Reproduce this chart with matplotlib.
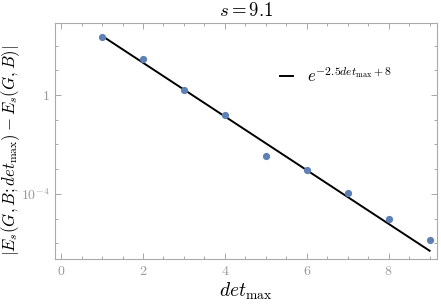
import matplotlib
matplotlib.use("Agg")
import matplotlib.pyplot as plt
import numpy as np
from matplotlib.ticker import FixedLocator, MultipleLocator, NullFormatter

plt.rcParams["mathtext.fontset"] = "cm"
plt.rcParams["font.family"] = "serif"
plt.rcParams["font.serif"] = ["DejaVu Serif"]

# values (log10 of the error)
det_max = np.array([1, 2, 3, 4, 5, 6, 7, 8, 9])
log_err = np.array([2.36, 1.47, 0.19, -0.82, -2.48, -3.02, -3.97, -5.01, -5.87])
err = 10.0 ** log_err

fit_a, fit_b = -2.5, 8.0

gray = "#999999"
fig = plt.figure(figsize=(4.41, 3.06), dpi=100)
ax = fig.add_axes([55 / 441, 1 - 259 / 306, 382 / 441, 236 / 306])

xs = np.linspace(1, 9, 100)
ax.plot(xs, np.exp(fit_a * xs + fit_b), c="k", lw=1.4,
        label=r"$e^{-2.5 det_{\mathrm{max}}+8}$")
ax.plot(det_max, err, " o", c="#5E81B5", ms=4.2, zorder=3)

ax.set_yscale("log")
ax.set_xlim(-0.15, 9.18)
ax.set_ylim(10 ** -6.63, 10 ** 2.91)

ax.xaxis.set_major_locator(MultipleLocator(2))
ax.xaxis.set_minor_locator(MultipleLocator(0.5))
ax.yaxis.set_major_locator(FixedLocator([1e-4, 1]))
ax.yaxis.set_minor_locator(FixedLocator([10.0 ** k for k in range(-8, 4)]))
ax.yaxis.set_minor_formatter(NullFormatter())
ax.set_yticklabels([r"$10^{-4}$", r"$1$"])
ax.set_xticklabels([r"$%d$" % v for v in ax.get_xticks()])

ax.tick_params(which="both", direction="in", top=True, right=True,
               colors=gray, labelcolor=gray, labelsize=10, width=0.6)
ax.tick_params(which="major", length=4)
ax.tick_params(which="minor", length=2.5)
for sp in ax.spines.values():
    sp.set_color("#aaaaaa")
    sp.set_linewidth(0.8)

ax.set_xlabel(r"$det_{\mathrm{max}}$", fontsize=14)
ax.xaxis.set_label_coords(0.5, -0.09)
ax.set_ylabel(r"$|E_s(G,B;det_{\mathrm{max}})-E_s(G,B)|$", fontsize=12)
ax.yaxis.set_label_coords(-0.086, 0.46)
ax.set_title(r"$s=9.1$", fontsize=13.5, pad=5)

ax.legend(loc="upper left", bbox_to_anchor=(0.55, 0.88), frameon=False,
          fontsize=12, handlelength=0.8, handletextpad=0.8)

fig.savefig("out.png", dpi=100)
